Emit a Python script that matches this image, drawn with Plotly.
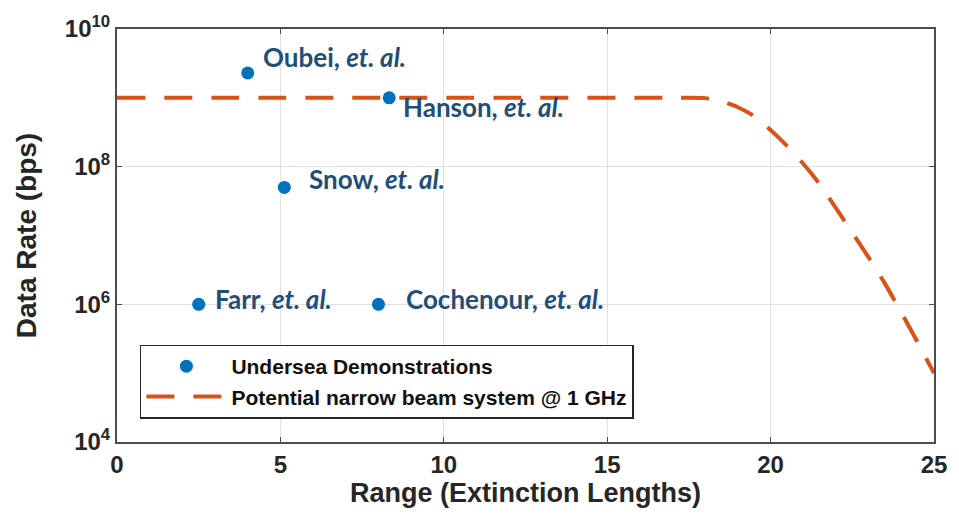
import math
import plotly.graph_objects as go

# Undersea demonstrations
demo_names = ["Oubei", "Hanson", "Snow", "Farr", "Cochenour"]
demo_range = [4.0, 8.33, 5.12, 2.5, 8.0]
demo_rate = [2.3e9, 1.0e9, 5.0e7, 1.0e6, 1.0e6]

# Potential narrow beam system @ 1 GHz
curve_range = [0, 17, 18, 18.5, 19, 19.5, 20, 20.5, 21, 21.5, 22, 22.5, 23, 23.5, 24, 24.5, 25]
curve_rate = [1.0e9, 1.0e9, 9.9e8, 8.9e8, 7.3e8, 5.4e8, 3.4e8, 2.0e8, 1.1e8, 5.6e7,
              2.5e7, 1.1e7, 4.8e6, 2.0e6, 7.6e5, 2.8e5, 1.0e5]

x_ticks = [0, 5, 10, 15, 20, 25]
y_ticks = [1e4, 1e6, 1e8, 1e10]
y_ticktext = ["10<sup>4</sup>", "10<sup>6</sup>", "10<sup>8</sup>", "10<sup>10</sup>"]

# label offsets (px) relative to each point
label_dx = [13, 12, 23, 14, 26]
label_dy = [16, -9, 8, 5, 5]

BLUE = "#0072BD"
ORANGE = "#D95319"
LABEL = "#1F4E79"

fig = go.Figure()
fig.add_trace(go.Scatter(
    x=demo_range, y=demo_rate, mode="markers",
    marker=dict(color=BLUE, size=13),
    name="Undersea Demonstrations"))
fig.add_trace(go.Scatter(
    x=curve_range, y=curve_rate, mode="lines",
    line=dict(color=ORANGE, width=4, dash="28px,19px", shape="spline", smoothing=0.6),
    name="Potential narrow beam system @ 1 GHz"))

# annotations on a log axis take log10 positions
for n, x, y, dx, dy in zip(demo_names, demo_range, demo_rate, label_dx, label_dy):
    fig.add_annotation(x=x, y=math.log10(y), text=f"{n}, <i>et. al.</i>", showarrow=False,
                       xanchor="left", yanchor="middle", xshift=dx, yshift=dy,
                       font=dict(family="Lato", size=26, color=LABEL, weight="bold"))

tick_font = dict(family="Liberation Sans", size=24, color="#262626", weight="bold")

fig.update_layout(
    width=959, height=520,
    margin=dict(l=117, r=17, t=23, b=78),
    paper_bgcolor="white", plot_bgcolor="white",
    showlegend=True,
    legend=dict(x=0.028, y=0.236, xanchor="left", yanchor="top",
                bgcolor="white", bordercolor="#262626", borderwidth=1.5,
                font=dict(family="Liberation Sans", size=21, color="#111", weight="bold"),
                itemwidth=80, tracegroupgap=0),
)
fig.update_xaxes(
    range=[0, 25], tickvals=x_ticks, ticks="inside", ticklen=5, tickcolor="#4d4d4d",
    showgrid=True, gridcolor="#e0e0e0", gridwidth=1,
    showline=True, linecolor="#4d4d4d", linewidth=2, mirror="ticks",
    tickfont=tick_font, zeroline=False,
    title=dict(text="Range (Extinction Lengths)",
               font=dict(family="Liberation Sans", size=27, color="#262626", weight="bold"),
               standoff=4))
fig.update_yaxes(
    type="log", range=[4, 10], tickvals=y_ticks, ticktext=y_ticktext,
    ticks="inside", ticklen=5, tickcolor="#4d4d4d",
    showgrid=True, gridcolor="#e0e0e0", gridwidth=1,
    showline=True, linecolor="#4d4d4d", linewidth=2, mirror="ticks",
    tickfont=tick_font, zeroline=False,
    title=dict(text="Data Rate (bps)",
               font=dict(family="Liberation Sans", size=28, color="#262626", weight="bold"),
               standoff=20))

fig.write_html("out.html")
